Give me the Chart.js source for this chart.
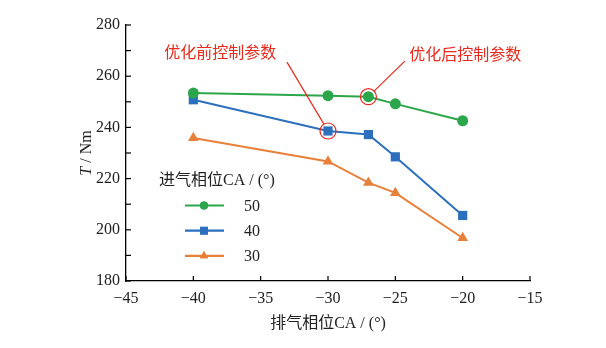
<!DOCTYPE html>
<html>
<head>
<meta charset="utf-8">
<script src="https://cdn.jsdelivr.net/npm/chart.js@4/dist/chart.umd.min.js"></script>
<style>
  html, body { margin: 0; padding: 0; background: #fff; }
  #wrap { width: 606px; height: 348px; }
</style>
</head>
<body>
<div id="wrap"><canvas id="c" width="606" height="348"></canvas></div>
<script>
// 排气相位 (x) 和 扭矩 (y)
const exhaustPhase = [-40, -30, -27, -25, -20];
const torque50 = [253.4, 252.4, 252.0, 249.2, 242.6];
const torque40 = [250.8, 238.6, 237.2, 228.5, 205.6];
const torque30 = [235.9, 226.7, 218.4, 214.4, 196.8];
const seriesLabels = ['50', '40', '30'];
const xTicks = [-45, -40, -35, -30, -25, -20, -15];
const yTicks = [180, 200, 220, 240, 260, 280];

const legendTitle = '进气相位CA / (°)';
const xTitle = '排气相位CA / (°)';
const noteBefore = '优化前控制参数';
const noteAfter = '优化后控制参数';

const serif = '"Liberation Serif", "Noto Sans CJK SC", serif';
const cjk = '"Noto Sans CJK SC", sans-serif';

function pts(ys) {
    return exhaustPhase.map((x, i) => ({ x: x, y: ys[i] }));
}

const colors = ['#2ca64a', '#2b6fbd', '#e8803a'];
const styles = ['circle', 'rect', 'triangle'];
const radii = [5.5, 6.5, 6.2];
const legendRadii = [4, 5.5, 4.8];

const datasets = [torque50, torque40, torque30].map((d, i) => ({
    label: seriesLabels[i],
    data: pts(d),
    showLine: true,
    borderColor: colors[i],
    backgroundColor: colors[i],
    borderWidth: 2,
    pointStyle: styles[i],
    pointRadius: radii[i],
    pointBorderWidth: 0,
    pointBackgroundColor: colors[i]
}));

// 标注: 红圈+引线+文字 (数据坐标)
const notes = [
    { text: noteBefore, ds: 1, idx: 1, tx: -38.0, ty: 269.6, lx: -33.05, ly: 265.5 },
    { text: noteAfter, ds: 0, idx: 2, tx: -19.8, ty: 268.7, lx: -24.3, ly: 265.9 }
];

const extras = {
    id: 'extras',
    afterDraw(chart) {
        const ctx = chart.ctx;
        const xs = chart.scales.x, ys = chart.scales.y;
        const area = chart.chartArea;
        ctx.save();

        // 向内的刻度
        ctx.strokeStyle = '#000';
        ctx.lineWidth = 1.2;
        for (let v = -45; v <= -15; v += 5) {
            const px = xs.getPixelForValue(v);
            ctx.beginPath();
            ctx.moveTo(px, area.bottom);
            ctx.lineTo(px, area.bottom - 5);
            ctx.stroke();
        }
        for (let v = 180; v <= 280; v += 10) {
            const py = ys.getPixelForValue(v);
            ctx.beginPath();
            ctx.moveTo(area.left, py);
            ctx.lineTo(area.left + 5, py);
            ctx.stroke();
        }

        // 标注
        ctx.strokeStyle = '#e8291c';
        ctx.fillStyle = '#e8291c';
        ctx.lineWidth = 1.2;
        ctx.font = '16px ' + cjk;
        ctx.textAlign = 'center';
        ctx.textBaseline = 'middle';
        notes.forEach(n => {
            const p = chart.data.datasets[n.ds].data[n.idx];
            const cx = xs.getPixelForValue(p.x), cy = ys.getPixelForValue(p.y);
            const r = 8;
            ctx.beginPath();
            ctx.arc(cx, cy, r, 0, Math.PI * 2);
            ctx.stroke();
            const sx = xs.getPixelForValue(n.lx), sy = ys.getPixelForValue(n.ly);
            const dx = cx - sx, dy = cy - sy, len = Math.hypot(dx, dy);
            ctx.beginPath();
            ctx.moveTo(sx, sy);
            ctx.lineTo(cx - dx / len * r, cy - dy / len * r);
            ctx.stroke();
            ctx.fillText(n.text, xs.getPixelForValue(n.tx), ys.getPixelForValue(n.ty));
        });

        // 图例
        ctx.fillStyle = '#222';
        ctx.textAlign = 'left';
        ctx.font = '16px ' + serif;
        ctx.fillText(legendTitle, 159, 181);
        chart.data.datasets.forEach((ds, i) => {
            const y = 205.5 + i * 25.2;
            ctx.strokeStyle = ds.borderColor;
            ctx.lineWidth = 2.2;
            ctx.beginPath();
            ctx.moveTo(185, y);
            ctx.lineTo(224, y);
            ctx.stroke();
            ctx.fillStyle = ds.borderColor;
            Chart.helpers.drawPoint(ctx, { pointStyle: ds.pointStyle, radius: legendRadii[i], borderWidth: 0, rotation: 0 }, 204, y);
            ctx.fill();
            ctx.fillStyle = '#222';
            ctx.fillText(ds.label, 244, y + 1);
        });

        // 轴标题
        ctx.textAlign = 'center';
        ctx.font = '16px ' + serif;
        ctx.fillText(xTitle, (area.left + area.right) / 2, 324);

        ctx.translate(87, (area.top + area.bottom) / 2);
        ctx.rotate(-Math.PI / 2);
        ctx.font = 'italic 16px ' + serif;
        const tW = ctx.measureText('T').width;
        ctx.font = '16px ' + serif;
        const rest = ' / Nm';
        const rW = ctx.measureText(rest).width;
        const start = -(tW + rW) / 2;
        ctx.textAlign = 'left';
        ctx.font = 'italic 16px ' + serif;
        ctx.fillText('T', start, 0);
        ctx.font = '16px ' + serif;
        ctx.fillText(rest, start + tW, 0);

        ctx.restore();
    }
};

new Chart(document.getElementById('c').getContext('2d'), {
    type: 'scatter',
    data: { datasets: datasets },
    plugins: [extras],
    options: {
        responsive: false,
        animation: false,
        layout: { padding: { left: 0, right: 76, top: 25, bottom: 0 } },
        plugins: {
            legend: { display: false },
            tooltip: { enabled: false }
        },
        scales: {
            x: {
                type: 'linear',
                min: -45,
                max: -15,
                afterFit(scale) { scale.height = 67; },
                afterBuildTicks(scale) { scale.ticks = xTicks.map(v => ({ value: v })); },
                grid: { display: false, drawTicks: false },
                border: { display: true, color: '#000', width: 1.3 },
                ticks: {
                    padding: 8,
                    color: '#222',
                    font: { family: serif, size: 16 },
                    callback: v => String(v).replace('-', '\u2212')
                }
            },
            y: {
                min: 180,
                max: 280,
                afterFit(scale) { scale.width = 126; },
                afterBuildTicks(scale) { scale.ticks = yTicks.map(v => ({ value: v })); },
                grid: { display: false, drawTicks: false },
                border: { display: true, color: '#000', width: 1.3 },
                ticks: {
                    padding: 6,
                    color: '#222',
                    font: { family: serif, size: 16 }
                }
            }
        }
    }
});
</script>
</body>
</html>
